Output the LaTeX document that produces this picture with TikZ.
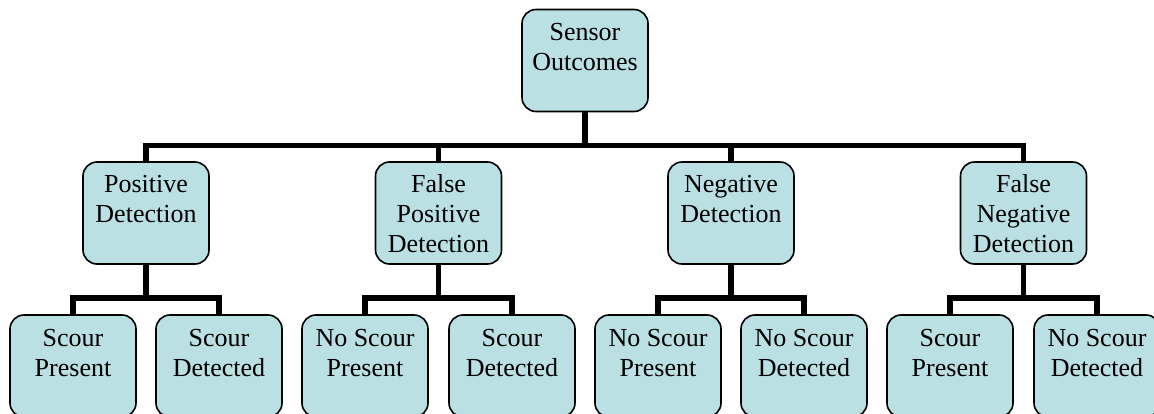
\documentclass[tikz,border=0pt]{standalone}
\usepackage{fontspec}
\setmainfont{Liberation Serif}
\definecolor{boxfill}{RGB}{186,224,227}
\newcommand\boxtxt[1]{\parbox[c][102pt][t]{124pt}{\centering\rule{0pt}{31pt}#1}}
\tikzset{
  outcome/.style={draw=black, line width=1.6pt, fill=boxfill, rounded corners=14pt,
    minimum width=126pt, minimum height=102pt, inner sep=0pt,
    font=\fontsize{26}{30}\selectfont},
  conn/.style={draw=black, line width=5.5pt, line join=miter}
}
\begin{document}
\begin{tikzpicture}[x=1pt,y=-1pt]
\useasboundingbox (0,0) rectangle (1154,414);
\clip (0,0) rectangle (1154,414);
% root
\node[outcome] (root) at (585,60.5) {\boxtxt{Sensor\\Outcomes}};
% level 1
\node[outcome] (pd)  at (146,213)   {\boxtxt{Positive\\Detection}};
\node[outcome] (fpd) at (438.5,213) {\boxtxt{False\\Positive\\Detection}};
\node[outcome] (nd)  at (731,213)   {\boxtxt{Negative\\Detection}};
\node[outcome] (fnd) at (1023.5,213){\boxtxt{False\\Negative\\Detection}};
% level 2
\node[outcome] (pd1)  at (73,366)   {\boxtxt{Scour\\Present}};
\node[outcome] (pd2)  at (219,366)  {\boxtxt{Scour\\Detected}};
\node[outcome] (fpd1) at (365,366)  {\boxtxt{No Scour\\Present}};
\node[outcome] (fpd2) at (512,366)  {\boxtxt{Scour\\Detected}};
\node[outcome] (nd1)  at (658,366)  {\boxtxt{No Scour\\Present}};
\node[outcome] (nd2)  at (804,366)  {\boxtxt{No Scour\\Detected}};
\node[outcome] (fnd1) at (950,366)  {\boxtxt{Scour\\Present}};
\node[outcome] (fnd2) at (1097,366) {\boxtxt{No Scour\\Detected}};
% connectors
\foreach \c in {pd,fpd,nd,fnd}
  \draw[conn] (root.south) -- ++(0,33) -| (\c.north);
\foreach \p/\a/\b in {pd/pd1/pd2, fpd/fpd1/fpd2, nd/nd1/nd2, fnd/fnd1/fnd2}{
  \draw[conn] (\p.south) -- ++(0,33) -| (\a.north);
  \draw[conn] (\p.south) -- ++(0,33) -| (\b.north);
}
\end{tikzpicture}
\end{document}
